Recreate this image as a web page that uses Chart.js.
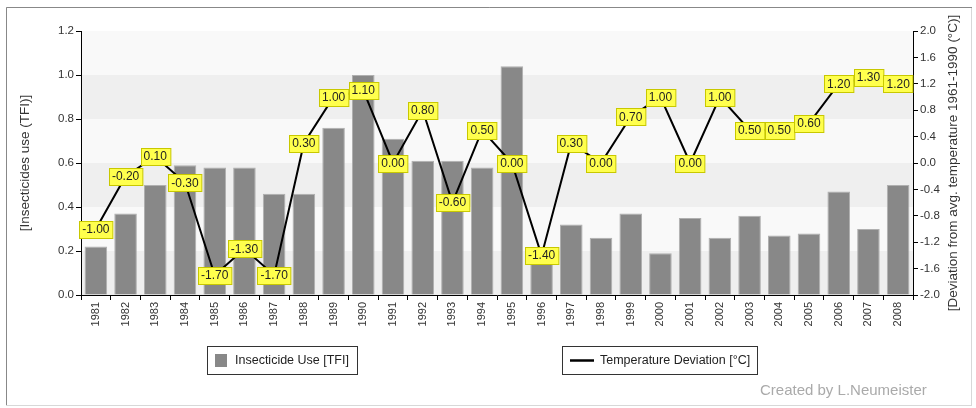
<!DOCTYPE html>
<html><head><meta charset="utf-8">
<script src="https://cdn.jsdelivr.net/npm/chart.js@4.4.0/dist/chart.umd.min.js"></script>
<style>html,body{margin:0;padding:0;background:#fff;} canvas{display:block}</style>
</head><body>
<canvas id="c" width="976" height="408" style="width:976px;height:408px"></canvas>
<script>
const years = ['1981','1982','1983','1984','1985','1986','1987','1988','1989','1990','1991','1992','1993','1994','1995','1996','1997','1998','1999','2000','2001','2002','2003','2004','2005','2006','2007','2008'];
const insecticideUse = [0.22,0.37,0.50,0.59,0.58,0.58,0.46,0.46,0.76,1.00,0.71,0.61,0.61,0.58,1.04,0.19,0.32,0.26,0.37,0.19,0.35,0.26,0.36,0.27,0.28,0.47,0.30,0.50];
const tempDeviation = [-1.0,-0.2,0.1,-0.3,-1.7,-1.3,-1.7,0.3,1.0,1.1,0.0,0.8,-0.6,0.5,0.0,-1.4,0.3,0.0,0.7,1.0,0.0,1.0,0.5,0.5,0.6,1.2,1.3,1.2];
const leftTitle = '[Insecticides use (TFI)]';
const rightTitle = '[Deviation from avg. temperature 1961-1990 (°C)]';
const credit = 'Created by L.Neumeister';
const FONT = '"Liberation Sans", Arial, sans-serif';

const decor = {
  id: 'decor',
  beforeDraw(chart) {
    const ctx = chart.ctx, a = chart.chartArea, y = chart.scales.y;
    ctx.save();
    ctx.fillStyle = '#fff';
    ctx.fillRect(0, 0, chart.width, chart.height);
    ctx.strokeStyle = '#d8d8d8';
    ctx.lineWidth = 1;
    ctx.strokeRect(6.5, 7.5, 965, 398);
    ctx.strokeStyle = '#888';
    ctx.beginPath(); ctx.moveTo(6.5, 405); ctx.lineTo(6.5, 7.5); ctx.lineTo(972, 7.5); ctx.stroke();
    for (let i = 0; i < 6; i++) {
      const v0 = i * 0.2, v1 = (i + 1) * 0.2;
      const p0 = y.getPixelForValue(v0), p1 = y.getPixelForValue(v1);
      ctx.fillStyle = (i % 2 === 0) ? '#efefef' : '#f9f9f9';
      ctx.fillRect(a.left, p1, a.right - a.left, p0 - p1);
    }
    ctx.restore();
  },
  afterDatasetsDraw(chart) {
    const ctx = chart.ctx;
    const meta = chart.getDatasetMeta(1);
    ctx.save();
    ctx.font = '12px ' + FONT;
    ctx.textAlign = 'center';
    ctx.textBaseline = 'middle';
    meta.data.forEach((pt, i) => {
      const txt = tempDeviation[i].toFixed(2);
      const w = ctx.measureText(txt).width + 6, h = 17;
      const x = Math.round(pt.x - w / 2) + 0.5, yy = Math.round(pt.y - h / 2) + 0.5;
      ctx.fillStyle = '#ffff4d';
      ctx.fillRect(x, yy, w, h);
      ctx.strokeStyle = '#c8c800';
      ctx.lineWidth = 1;
      ctx.strokeRect(x, yy, w, h);
      ctx.fillStyle = '#222';
      ctx.fillText(txt, pt.x, pt.y + 0.5);
    });
    ctx.restore();
  },
  afterDraw(chart) {
    const ctx = chart.ctx, a = chart.chartArea;
    const cy = (a.top + a.bottom) / 2;
    ctx.save();
    ctx.fillStyle = '#333';
    ctx.font = '13.5px ' + FONT;
    ctx.textAlign = 'center';
    ctx.textBaseline = 'middle';
    ctx.save(); ctx.translate(25, cy); ctx.rotate(-Math.PI / 2); ctx.fillText(leftTitle, 0, 0); ctx.restore();
    ctx.save(); ctx.translate(953, cy); ctx.rotate(-Math.PI / 2); ctx.fillText(rightTitle, 0, 0); ctx.restore();
    const ds = chart.data.datasets;
    ctx.font = '12.5px ' + FONT;
    ctx.textAlign = 'left';
    ctx.strokeStyle = '#333';
    ctx.lineWidth = 1;
    ctx.strokeRect(207.5, 346.5, 150, 28);
    ctx.fillStyle = '#888';
    ctx.fillRect(215, 354, 12, 13);
    ctx.fillStyle = '#222';
    ctx.fillText(ds[0].label, 235, 361);
    ctx.strokeRect(562.5, 346.5, 195, 28);
    ctx.beginPath(); ctx.lineWidth = 2.5; ctx.strokeStyle = '#000';
    ctx.moveTo(570, 360.5); ctx.lineTo(594, 360.5); ctx.stroke();
    ctx.fillText(ds[1].label, 600, 361);
    ctx.fillStyle = '#aaa';
    ctx.font = '15px ' + FONT;
    ctx.fillText(credit, 760, 391);
    ctx.restore();
  }
};

new Chart(document.getElementById('c'), {
  data: {
    labels: years,
    datasets: [
      { type: 'bar', label: 'Insecticide Use [TFI]', data: insecticideUse, yAxisID: 'y',
        backgroundColor: '#888888', borderColor: '#b0b0b0', borderWidth: 1,
        barPercentage: 0.76, categoryPercentage: 1.0, order: 2 },
      { type: 'line', label: 'Temperature Deviation [°C]', data: tempDeviation, yAxisID: 'y2',
        borderColor: '#000', borderWidth: 2, pointRadius: 0, tension: 0, fill: false, order: 1 }
    ]
  },
  options: {
    responsive: false,
    animation: false,
    devicePixelRatio: 1,
    layout: { padding: { top: 31, left: 0, right: 0, bottom: 0 } },
    plugins: { legend: { display: false }, tooltip: { enabled: false } },
    scales: {
      x: {
        offset: true,
        grid: { offset: true, drawOnChartArea: false, tickLength: 5, color: '#000' },
        border: { color: '#000' },
        ticks: { autoSkip: false, maxRotation: 90, minRotation: 90, color: '#333', padding: 2,
                 font: { family: FONT, size: 11 } },
        afterFit(s) { s.height = 113; }
      },
      y: {
        position: 'left', min: 0, max: 1.2,
        grid: { drawOnChartArea: false, tickLength: 5, color: '#000' },
        border: { color: '#000' },
        ticks: { stepSize: 0.2, color: '#333', padding: 2, font: { family: FONT, size: 11.5 },
                 callback: v => Number(v).toFixed(1) },
        afterFit(s) { s.width = 81; }
      },
      y2: {
        position: 'right', min: -2, max: 2,
        grid: { drawOnChartArea: false, tickLength: 5, color: '#000' },
        border: { color: '#000' },
        ticks: { stepSize: 0.4, color: '#333', padding: 2, font: { family: FONT, size: 11.5 },
                 callback: v => Number(v).toFixed(1) },
        afterFit(s) { s.width = 63; }
      }
    }
  },
  plugins: [decor]
});
</script>
</body></html>
